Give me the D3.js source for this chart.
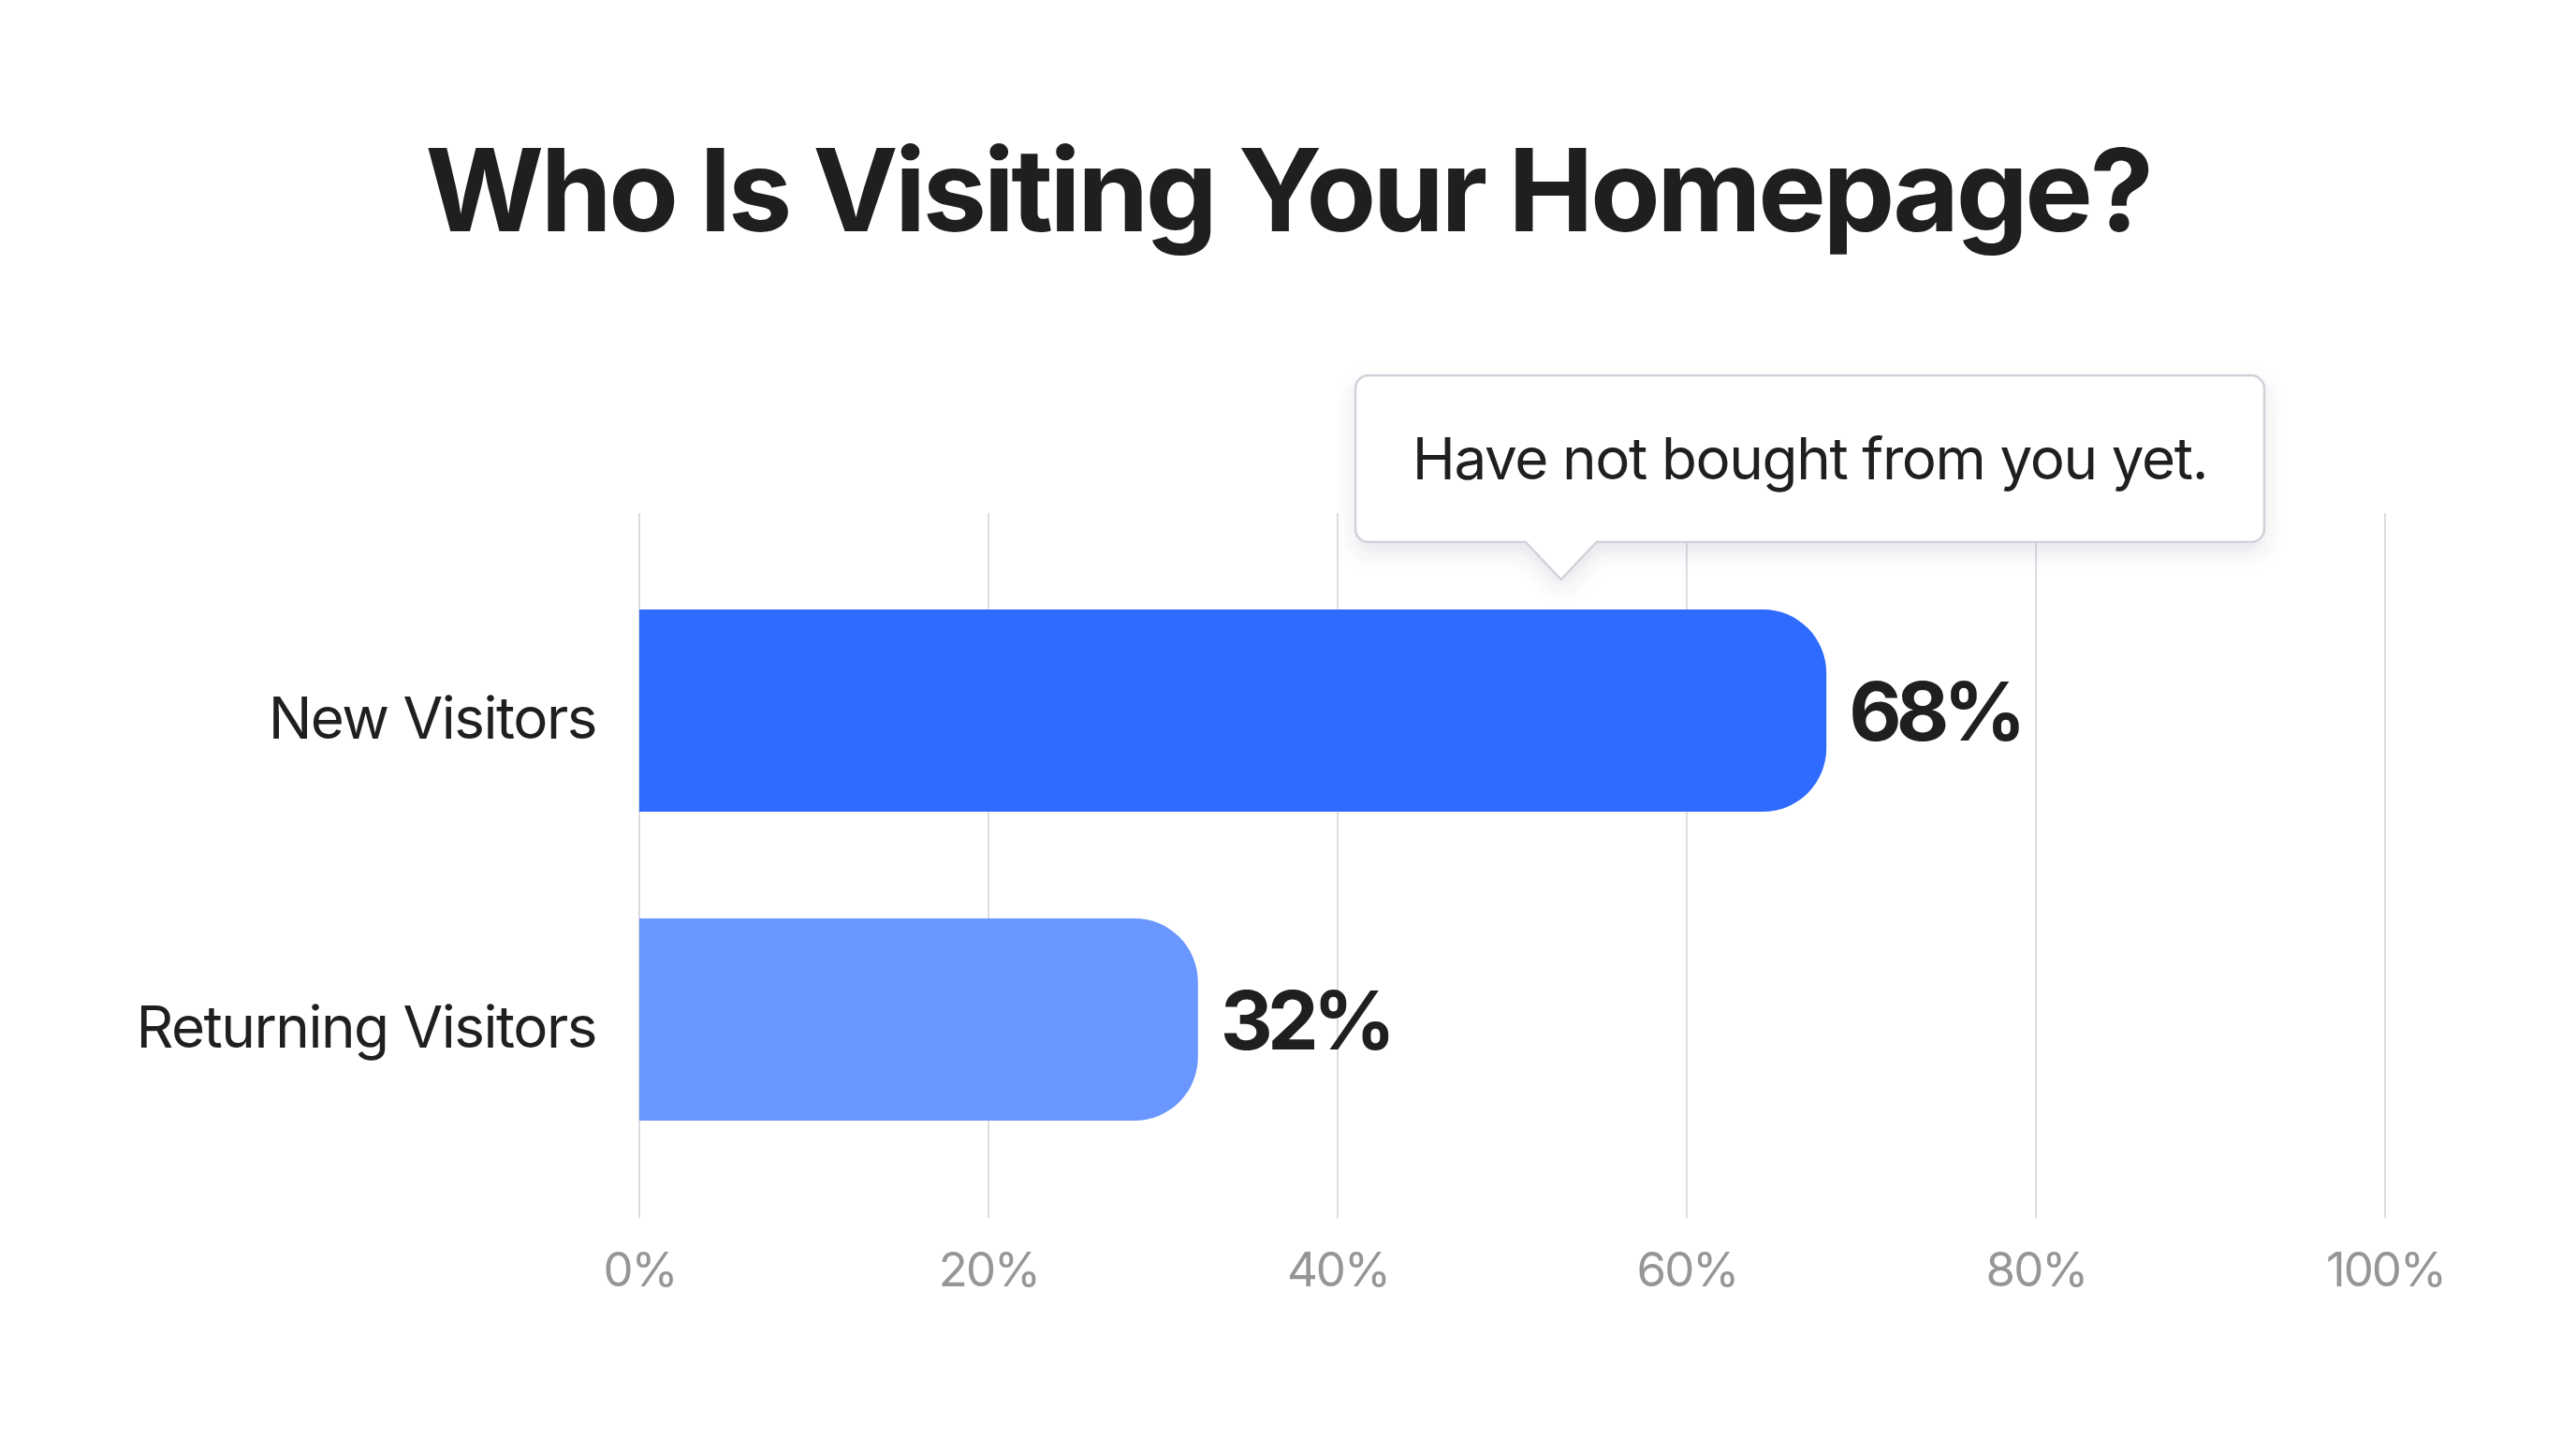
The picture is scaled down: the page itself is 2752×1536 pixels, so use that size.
<!DOCTYPE html>
<html>
<head>
<meta charset="utf-8">
<script src="https://cdn.jsdelivr.net/npm/d3@7"></script>
<style>
  body { margin: 0; background: #fff; }
  text { font-family: Inter, "Noto Sans", sans-serif; }
</style>
</head>
<body>
<script>
// data
var categories = ["New Visitors", "Returning Visitors"];
var values = [68, 32];
var barColors = ["#2f6bff", "#6a96ff"];
var tickValues = [0, 20, 40, 60, 80, 100];
var titleText = "Who Is Visiting Your Homepage?";
var noteText = "Have not bought from you yet.";
var noteAt = 52.8; // where the callout points, in %

var W = 2752, H = 1536;

var svg = d3.select("body").append("svg")
  .attr("width", W).attr("height", H);

svg.append("rect").attr("width", W).attr("height", H).attr("fill", "#fff");

var defs = svg.append("defs");
var shadow = defs.append("filter").attr("id", "shadow")
  .attr("x", "-10%").attr("y", "-20%").attr("width", "120%").attr("height", "160%");
shadow.append("feDropShadow")
  .attr("dx", 0).attr("dy", 10).attr("stdDeviation", 10)
  .attr("flood-color", "#3c4660").attr("flood-opacity", 0.13);

var x = d3.scaleLinear().domain([0, 100]).range([683, 2548]);
var y = d3.scaleBand().domain(categories).range([594, 1254])
  .paddingInner(0.345).paddingOuter(0.1725);

// title
svg.append("text")
  .attr("x", W / 2).attr("y", 247)
  .attr("text-anchor", "middle")
  .attr("font-size", 122).attr("font-weight", 700)
  .attr("letter-spacing", -3.4)
  .attr("fill", "#1f1f1f")
  .text(titleText);

// gridlines
svg.append("g").selectAll("line").data(tickValues).enter().append("line")
  .attr("x1", function(d) { return x(d); })
  .attr("x2", function(d) { return x(d); })
  .attr("y1", 548).attr("y2", 1301)
  .attr("stroke", "#dcdde2").attr("stroke-width", 2);

// x axis labels
var xAxis = d3.axisBottom(x).tickValues(tickValues)
  .tickFormat(function(d) { return d + "%"; }).tickSize(0).tickPadding(0);
var gx = svg.append("g").attr("transform", "translate(0,1374)").call(xAxis);
gx.select(".domain").remove();
gx.selectAll("text")
  .attr("dy", 0).attr("y", 0)
  .attr("font-size", 51).attr("fill", "#969696")
  .attr("letter-spacing", -2)
  .style("font-family", "Inter, sans-serif");

// bar with rounded right end
function barPath(x0, x1, y0, h, r) {
  r = Math.min(r, (x1 - x0), h / 2);
  return "M" + x0 + "," + y0 +
    "H" + (x1 - r) +
    "A" + r + "," + r + " 0 0 1 " + x1 + "," + (y0 + r) +
    "V" + (y0 + h - r) +
    "A" + r + "," + r + " 0 0 1 " + (x1 - r) + "," + (y0 + h) +
    "H" + x0 + "Z";
}

var rows = categories.map(function(c, i) { return { cat: c, val: values[i], color: barColors[i] }; });

svg.append("g").selectAll("path").data(rows).enter().append("path")
  .attr("d", function(d) { return barPath(x(0), x(d.val), y(d.cat), y.bandwidth(), 68); })
  .attr("fill", function(d) { return d.color; });

// category labels
svg.append("g").selectAll("text").data(rows).enter().append("text")
  .attr("x", x(0) - 46)
  .attr("y", function(d) { return y(d.cat) + y.bandwidth() / 2 + 30; })
  .attr("text-anchor", "end")
  .attr("font-size", 62).attr("fill", "#1f1f1f")
  .attr("letter-spacing", -1.5)
  .text(function(d) { return d.cat; });

// value labels
svg.append("g").selectAll("text").data(rows).enter().append("text")
  .attr("x", function(d) { return x(d.val) + 24; })
  .attr("y", function(d) { return y(d.cat) + y.bandwidth() / 2 + 32; })
  .attr("font-size", 87).attr("font-weight", 700).attr("fill", "#1f1f1f")
  .attr("letter-spacing", -6)
  .text(function(d) { return d.val + "%"; });

// callout
var bx0 = 1448, bx1 = 2419, by0 = 401, by1 = 579, br = 14;
var px = x(noteAt), pw = 38, ptip = 619;
var callout = "M" + (bx0 + br) + "," + by0 +
  "H" + (bx1 - br) + "A" + br + "," + br + " 0 0 1 " + bx1 + "," + (by0 + br) +
  "V" + (by1 - br) + "A" + br + "," + br + " 0 0 1 " + (bx1 - br) + "," + by1 +
  "H" + (px + pw) + "L" + px + "," + ptip + "L" + (px - pw) + "," + by1 +
  "H" + (bx0 + br) + "A" + br + "," + br + " 0 0 1 " + bx0 + "," + (by1 - br) +
  "V" + (by0 + br) + "A" + br + "," + br + " 0 0 1 " + (bx0 + br) + "," + by0 + "Z";
svg.append("path")
  .attr("d", callout)
  .attr("fill", "#fff")
  .attr("stroke", "#cfd2d9").attr("stroke-width", 2.5)
  .attr("filter", "url(#shadow)");
svg.append("text")
  .attr("x", (bx0 + bx1) / 2).attr("y", 512)
  .attr("text-anchor", "middle")
  .attr("font-size", 62).attr("fill", "#1f1f1f")
  .attr("letter-spacing", -1.4)
  .text(noteText);
</script>
</body>
</html>
